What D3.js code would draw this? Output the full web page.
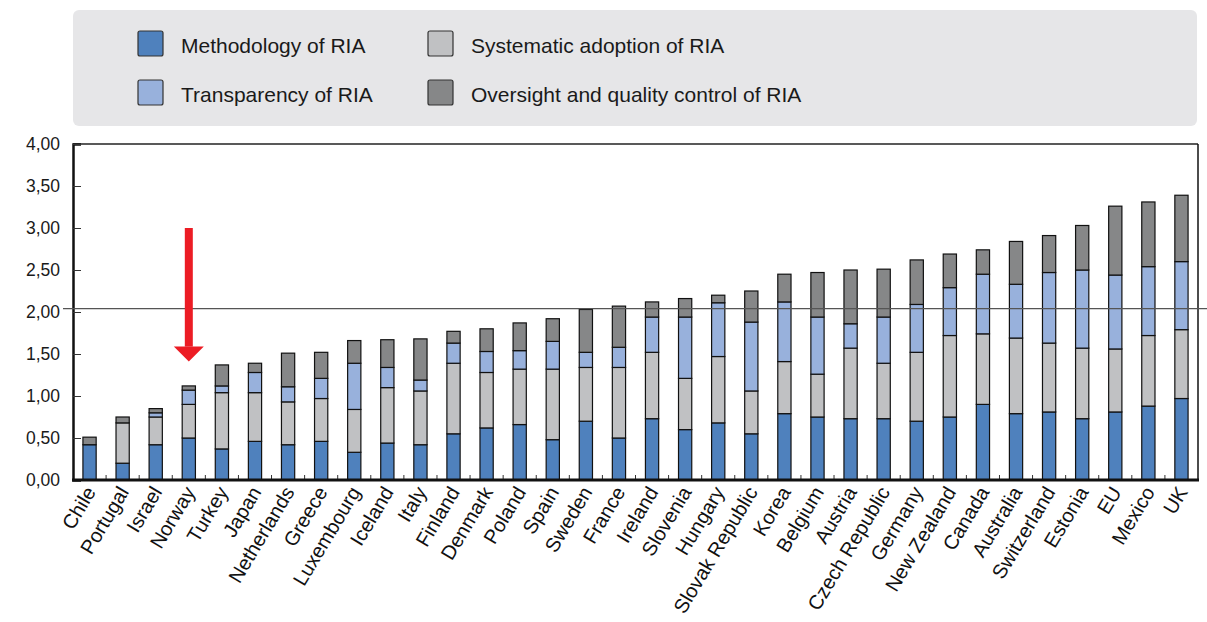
<!DOCTYPE html>
<html>
<head>
<meta charset="utf-8">
<script src="https://cdn.jsdelivr.net/npm/d3@7"></script>
<style>
  body { margin: 0; background: #fff; }
  svg { display: block; font-family: Arial, "Liberation Sans", sans-serif; }
</style>
</head>
<body>
<svg id="chart"></svg>
<script>
const countries = ['Chile', 'Portugal', 'Israel', 'Norway', 'Turkey', 'Japan', 'Netherlands', 'Greece', 'Luxembourg', 'Iceland', 'Italy', 'Finland', 'Denmark', 'Poland', 'Spain', 'Sweden', 'France', 'Ireland', 'Slovenia', 'Hungary', 'Slovak Republic', 'Korea', 'Belgium', 'Austria', 'Czech Republic', 'Germany', 'New Zealand', 'Canada', 'Australia', 'Switzerland', 'Estonia', 'EU', 'Mexico', 'UK']

const methodology  = [0.42, 0.20, 0.42, 0.50, 0.37, 0.46, 0.42, 0.46, 0.33, 0.44, 0.42, 0.55, 0.62, 0.66, 0.48, 0.70, 0.50, 0.73, 0.60, 0.68, 0.55, 0.79, 0.75, 0.73, 0.73, 0.70, 0.75, 0.90, 0.79, 0.81, 0.73, 0.81, 0.88, 0.97]
const systematic   = [0.00, 0.48, 0.33, 0.40, 0.67, 0.58, 0.51, 0.51, 0.51, 0.66, 0.64, 0.84, 0.66, 0.66, 0.84, 0.64, 0.84, 0.79, 0.61, 0.79, 0.51, 0.62, 0.51, 0.84, 0.66, 0.82, 0.97, 0.84, 0.90, 0.82, 0.84, 0.75, 0.84, 0.82]
const transparency = [0.00, 0.00, 0.05, 0.17, 0.08, 0.24, 0.18, 0.24, 0.55, 0.24, 0.13, 0.24, 0.25, 0.22, 0.33, 0.18, 0.24, 0.42, 0.73, 0.64, 0.82, 0.71, 0.68, 0.29, 0.55, 0.57, 0.57, 0.71, 0.64, 0.84, 0.93, 0.88, 0.82, 0.81]
const oversight    = [0.09, 0.07, 0.05, 0.05, 0.25, 0.11, 0.40, 0.31, 0.27, 0.33, 0.49, 0.14, 0.27, 0.33, 0.27, 0.51, 0.49, 0.18, 0.22, 0.09, 0.37, 0.33, 0.53, 0.64, 0.57, 0.53, 0.40, 0.29, 0.51, 0.44, 0.53, 0.82, 0.77, 0.79]

const seriesNames = ['Methodology of RIA', 'Systematic adoption of RIA', 'Transparency of RIA', 'Oversight and quality control of RIA']
const seriesKeys = ['methodology', 'systematic', 'transparency', 'oversight']
const colors = ['#4f81bd', '#c0c1c3', '#98b1dc', '#868788']
const yTicks = [0, 0.5, 1, 1.5, 2, 2.5, 3, 3.5, 4]
const average = 2.04
const arrowCountry = 'Norway'

const rows = countries.map((c, i) => ({
  country: c,
  methodology: methodology[i],
  systematic: systematic[i],
  transparency: transparency[i],
  oversight: oversight[i]
}))

const w = 1207, h = 622
const m = { left: 73, right: 1198, top: 144, bottom: 480 }

const svg = d3.select('#chart').attr('width', w).attr('height', h)

// legend panel
svg.append('rect').attr('x', 73).attr('y', 10).attr('width', 1124).attr('height', 116)
  .attr('rx', 6).attr('fill', '#e6e6e8')

const legendPos = [[138, 31], [428, 31], [138, 80], [428, 80]]
seriesNames.forEach((name, i) => {
  const [lx, ly] = legendPos[i]
  svg.append('rect').attr('x', lx).attr('y', ly).attr('width', 25).attr('height', 25).attr('rx', 2)
    .attr('fill', colors[i]).attr('stroke', '#333').attr('stroke-width', 1.2)
  svg.append('text').attr('x', lx + 43).attr('y', ly + 22).text(name)
    .attr('font-size', 21).attr('fill', '#1a1a1a')
})

const x = d3.scaleBand().domain(countries).range([m.left, m.right]).paddingInner(0.6).paddingOuter(0.3)
const y = d3.scaleLinear().domain([0, 4]).range([m.bottom, m.top])

const stacked = d3.stack().keys(seriesKeys)(rows)

// bars
svg.append('g').selectAll('g').data(stacked).join('g')
  .attr('fill', (d, i) => colors[i])
  .selectAll('rect').data(d => d.filter(s => s[1] - s[0] > 0)).join('rect')
  .attr('x', d => x(d.data.country))
  .attr('width', x.bandwidth())
  .attr('y', d => y(d[1]))
  .attr('height', d => y(d[0]) - y(d[1]))
  .attr('stroke', '#111').attr('stroke-width', 1.2)

// frame
svg.append('line').attr('x1', m.left).attr('x2', m.right).attr('y1', m.top).attr('y2', m.top)
  .attr('stroke', '#222').attr('stroke-width', 1.5)
svg.append('line').attr('x1', m.right).attr('x2', m.right).attr('y1', m.top).attr('y2', m.bottom)
  .attr('stroke', '#111').attr('stroke-width', 1.5)

// y axis
const yAxis = d3.axisLeft(y).tickValues(yTicks).tickSize(-8).tickPadding(13)
  .tickFormat(d => d3.format('.2f')(d).replace('.', ','))
const gy = svg.append('g').attr('transform', `translate(${m.left},0)`).call(yAxis)
gy.select('.domain').attr('stroke', '#111').attr('stroke-width', 2.5)
gy.selectAll('.tick line').attr('stroke', '#333').attr('stroke-width', 1)
gy.selectAll('.tick text').attr('font-size', 17.5).attr('fill', '#1a1a1a').attr('font-family', 'Arial, "Liberation Sans", sans-serif')

// x axis ticks between bands, pointing up
const step = x.step()
const boundaries = countries.slice(1).map(c => x(c) - (step - x.bandwidth()) / 2)
svg.append('g').selectAll('line').data(boundaries).join('line')
  .attr('x1', d => d).attr('x2', d => d).attr('y1', m.bottom).attr('y2', m.bottom - 5)
  .attr('stroke', '#333').attr('stroke-width', 1)
svg.append('line').attr('x1', m.left - 1).attr('x2', m.right + 1).attr('y1', m.bottom).attr('y2', m.bottom)
  .attr('stroke', '#111').attr('stroke-width', 3)

// country labels
svg.append('g').selectAll('text').data(countries).join('text')
  .attr('transform', d => `translate(${x(d) + x.bandwidth() / 2 + 7},${m.bottom + 12}) rotate(-59)`)
  .attr('text-anchor', 'end').attr('font-size', 20).attr('fill', '#111')
  .text(d => d)

// average line
svg.append('line').attr('x1', 63).attr('x2', w).attr('y1', y(average)).attr('y2', y(average))
  .attr('stroke', '#555').attr('stroke-width', 1.3)

// red arrow pointing at Norway
const ax = x(arrowCountry) + x.bandwidth() / 2
const arrow = svg.append('g').attr('fill', '#ec1c24')
arrow.append('rect').attr('x', ax - 4).attr('y', y(3)).attr('width', 8).attr('height', y(1.6) - y(3) + 1)
arrow.append('path').attr('d', `M${ax - 15},${y(1.59)} L${ax + 15},${y(1.59)} L${ax},${y(1.41)} Z`)
</script>
</body>
</html>
